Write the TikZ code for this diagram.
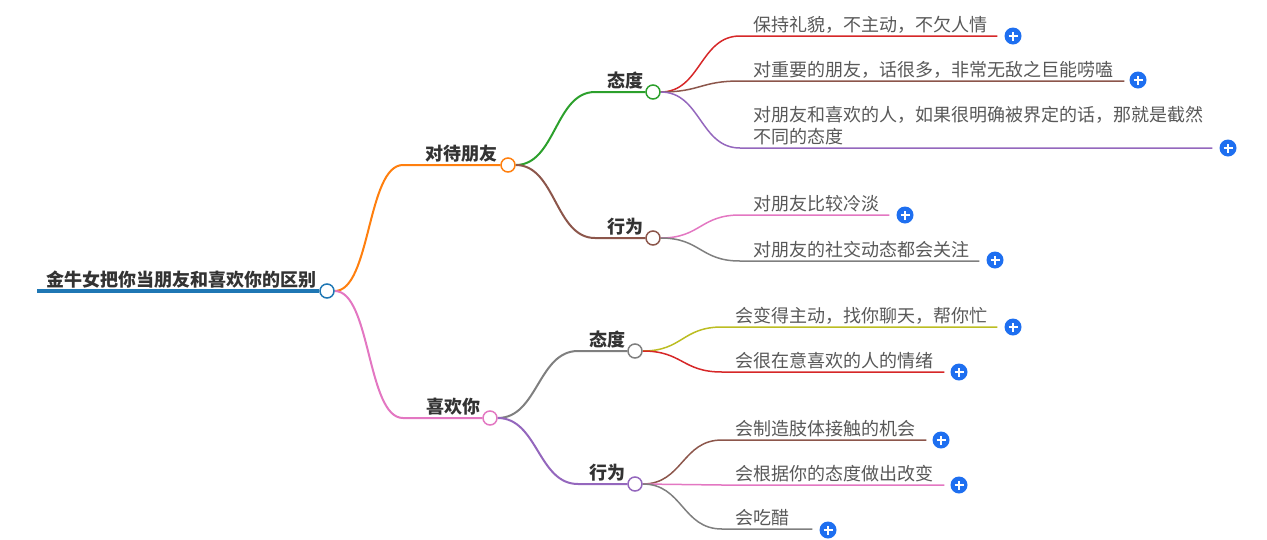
\documentclass[tikz,border=0pt]{standalone}
\usepackage{fontspec}
\setmainfont{Noto Sans CJK SC}
\usetikzlibrary{calc,backgrounds}
\definecolor{cblue}{HTML}{1F77B4}
\definecolor{corange}{HTML}{FF7F0E}
\definecolor{cgreen}{HTML}{2CA02C}
\definecolor{cred}{HTML}{D62728}
\definecolor{cpurple}{HTML}{9467BD}
\definecolor{cbrown}{HTML}{8C564B}
\definecolor{cpink}{HTML}{E377C2}
\definecolor{cgray}{HTML}{7F7F7F}
\definecolor{colive}{HTML}{BCBD22}
\definecolor{plusblue}{HTML}{1E6FF0}
\definecolor{labelgray}{HTML}{333333}
\definecolor{leafgray}{HTML}{585858}
\begin{document}
\begin{tikzpicture}[x=1pt,y=-1pt,
  hub/.style={circle,draw,fill=white,line width=1.5pt,minimum size=14pt,inner sep=0pt},
  plusbtn/.style={circle,fill=plusblue,minimum size=17pt,inner sep=0pt,
    path picture={
      \draw[white,line width=1.8pt] ([xshift=-4.5pt]path picture bounding box.center) -- ([xshift=4.5pt]path picture bounding box.center);
      \draw[white,line width=1.8pt] ([yshift=-4.5pt]path picture bounding box.center) -- ([yshift=4.5pt]path picture bounding box.center);}},
  lbl/.style={font=\fontsize{18}{21}\selectfont\bfseries,text=labelgray,inner sep=0pt,anchor=base east},
  leaf/.style={font=\fontsize{18}{22}\selectfont,text=leafgray,inner sep=0pt,anchor=base west},
  conn/.style={line width=2pt},
  leafline/.style={line width=1.5pt}]
\useasboundingbox (0,0) rectangle (1267,539);

% hub circles
\node[hub,draw=cblue] (R) at (327,291) {};
\node[hub,draw=corange] (A1) at (508,165) {};
\node[hub,draw=cpink] (A2) at (490,418) {};
\node[hub,draw=cgreen] (B1) at (653,92) {};
\node[hub,draw=cbrown] (B2) at (653,238) {};
\node[hub,draw=cgray] (B3) at (635,351) {};
\node[hub,draw=cpurple] (B4) at (635,484) {};

% hub labels
\node[lbl] (Rt) at (317,286) {金牛女把你当朋友和喜欢你的区别};
\node[lbl] (A1t) at (498,160) {对待朋友};
\node[lbl] (A2t) at (481,413) {喜欢你};
\node[lbl] (B1t) at (644,87) {态度};
\node[lbl] (B2t) at (644,233) {行为};
\node[lbl] (B3t) at (626,346) {态度};
\node[lbl] (B4t) at (626,479) {行为};

% plus buttons
\node[plusbtn] (P1) at (1013,36) {};
\node[plusbtn] (P2) at (1138,80) {};
\node[plusbtn] (P3) at (1228,148) {};
\node[plusbtn] (P4) at (905,215) {};
\node[plusbtn] (P5) at (995,260) {};
\node[plusbtn] (P6) at (1013,327) {};
\node[plusbtn] (P7) at (959,372) {};
\node[plusbtn] (P8) at (941,440) {};
\node[plusbtn] (P9) at (959,485) {};
\node[plusbtn] (P10) at (828,530) {};

% leaf texts
\node[leaf] (T1) at (753,31) {保持礼貌，不主动，不欠人情};
\node[leaf] (T2) at (753,76) {对重要的朋友，话很多，非常无敌之巨能唠嗑};
\node[leaf] (T3a) at (753,121) {对朋友和喜欢的人，如果很明确被界定的话，那就是截然};
\node[leaf] (T3b) at (753,143) {不同的态度};
\node[leaf] (T4) at (753,210) {对朋友比较冷淡};
\node[leaf] (T5) at (753,256) {对朋友的社交动态都会关注};
\node[leaf] (T6) at (735,322) {会变得主动，找你聊天，帮你忙};
\node[leaf] (T7) at (735,367) {会很在意喜欢的人的情绪};
\node[leaf] (T8) at (735,435) {会制造肢体接触的机会};
\node[leaf] (T9) at (735,480) {会根据你的态度做出改变};
\node[leaf] (T10) at (735,524) {会吃醋};

% junction coordinates
\coordinate (R0) at (37,291);
\coordinate (jA1) at (403,165);
\coordinate (jA2) at (403,418);
\coordinate (jB1) at (595,92);
\coordinate (jB2) at (595,238);
\coordinate (jB3) at (578,351);
\coordinate (jB4) at (578,484);
\coordinate (j1) at (740,36);
\coordinate (j2) at (740,81);
\coordinate (j3) at (740,148);
\coordinate (j4) at (740,215);
\coordinate (j5) at (740,261);
\coordinate (j6) at (722,327);
\coordinate (j7) at (722,372);
\coordinate (j8) at (722,440);
\coordinate (j9) at (722,485);
\coordinate (j10) at (722,529);

\begin{scope}[on background layer]
\draw[cblue,line width=4pt] (R0) -- (R.west);
\draw[conn,corange] (R.east) .. controls +(36,0) and +(-36,0) .. (jA1) -- (A1.west);
\draw[conn,cpink] (R.east) .. controls +(36,0) and +(-36,0) .. (jA2) -- (A2.west);
\draw[conn,cgreen] (A1.east) .. controls +(40,0) and +(-40,0) .. (jB1) -- (B1.west);
\draw[conn,cbrown] (A1.east) .. controls +(40,0) and +(-40,0) .. (jB2) -- (B2.west);
\draw[conn,cgray] (A2.east) .. controls +(40,0) and +(-40,0) .. (jB3) -- (B3.west);
\draw[conn,cpurple] (A2.east) .. controls +(40,0) and +(-40,0) .. (jB4) -- (B4.west);

\draw[leafline,cred] (B1.east) .. controls +(40,0) and +(-40,0) .. (j1) -- ($(P1.west)+(-7,0)$);
\draw[leafline,cbrown] (B1.east) .. controls +(40,0) and +(-40,0) .. (j2) -- ($(P2.west)+(-5,1)$);
\draw[leafline,cpurple] (B1.east) .. controls +(40,0) and +(-40,0) .. (j3) -- ($(P3.west)+(-7,0)$);
\draw[leafline,cpink] (B2.east) .. controls +(40,0) and +(-40,0) .. (j4) -- ($(P4.west)+(-7,0)$);
\draw[leafline,cgray] (B2.east) .. controls +(40,0) and +(-40,0) .. (j5) -- ($(P5.west)+(-7,1)$);
\draw[leafline,colive] (B3.east) .. controls +(40,0) and +(-40,0) .. (j6) -- ($(P6.west)+(-7,0)$);
\draw[leafline,cred] (B3.east) .. controls +(40,0) and +(-40,0) .. (j7) -- ($(P7.west)+(-6,0)$);
\draw[leafline,cbrown] (B4.east) .. controls +(40,0) and +(-40,0) .. (j8) -- ($(P8.west)+(-6,0)$);
\draw[leafline,cpink] (B4.east) .. controls +(40,0) and +(-40,0) .. (j9) -- ($(P9.west)+(-6,0)$);
\draw[leafline,cgray] (B4.east) .. controls +(40,0) and +(-40,0) .. (j10) -- ($(P10.west)+(-7,-1)$);
\end{scope}
\end{tikzpicture}
\end{document}
